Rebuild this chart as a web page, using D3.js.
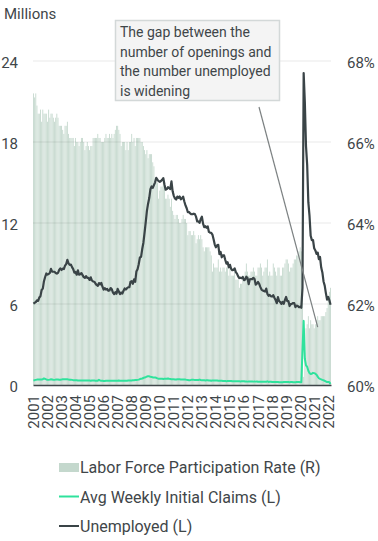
<!DOCTYPE html>
<html>
<head>
<meta charset="utf-8">
<script src="https://cdn.jsdelivr.net/npm/d3@7"></script>
<style>
  body { margin: 0; background: #fff; }
  text { font-family: Roboto, "Liberation Sans", sans-serif; fill: #3f4649; }
</style>
</head>
<body>
<div id="chart"></div>
<script>
// monthly series, Jan 2001 - Mar 2022
var startYear = 2001;

// labor force participation rate, %
var lfpr = [
  67.2,67.1,67.2,66.9,66.7,66.7,66.8,66.5,66.8,66.7,66.7,66.7,
  66.5,66.8,66.6,66.7,66.7,66.6,66.5,66.6,66.7,66.6,66.4,66.4,
  66.4,66.3,66.2,66.4,66.4,66.5,66.2,66.1,66.1,66.1,66.1,65.9,
  66.1,66.0,66.0,65.9,66.0,66.1,66.1,66.0,65.8,65.9,66.0,65.9,
  65.8,65.9,65.9,66.1,66.1,66.1,66.1,66.2,66.1,66.1,66.0,66.0,
  66.0,66.1,66.2,66.1,66.1,66.2,66.1,66.2,66.1,66.2,66.3,66.4,
  66.4,66.3,66.2,65.9,66.0,66.0,66.0,65.8,66.0,65.8,66.0,66.0,
  66.2,66.0,66.1,65.9,66.1,66.1,66.1,66.1,66.0,66.0,65.9,65.8,
  65.7,65.8,65.6,65.7,65.7,65.7,65.5,65.4,65.1,65.0,65.0,64.6,
  64.8,64.9,64.9,65.1,64.9,64.6,64.6,64.7,64.6,64.4,64.6,64.3,
  64.2,64.1,64.2,64.2,64.1,64.0,64.0,64.1,64.2,64.1,64.1,64.0,
  63.7,63.8,63.8,63.7,63.7,63.8,63.7,63.5,63.6,63.7,63.6,63.7,
  63.6,63.4,63.3,63.4,63.4,63.4,63.4,63.3,63.2,62.8,63.0,62.9,
  62.9,62.9,63.1,62.8,62.9,62.8,62.9,62.9,62.8,62.9,62.9,62.7,
  62.9,62.7,62.7,62.7,62.8,62.6,62.6,62.6,62.4,62.5,62.5,62.7,
  62.7,62.8,63.0,62.8,62.7,62.7,62.8,62.8,62.9,62.8,62.7,62.7,
  62.9,62.9,63.0,62.9,62.7,62.8,62.9,62.9,63.1,62.7,62.8,62.7,
  62.7,63.0,62.9,62.8,62.7,62.9,62.9,62.7,62.7,62.9,62.9,63.0,
  63.1,63.1,63.0,62.8,62.9,62.9,63.0,63.1,63.1,63.2,63.2,63.3,
  63.4,63.3,62.7,60.2,60.8,61.4,61.5,61.7,61.4,61.6,61.5,61.5,
  61.4,61.5,61.6,61.7,61.6,61.6,61.7,61.7,61.7,61.7,61.8,61.9,
  62.2,62.3,62.4
];

// unemployed, millions
var unemployed = [
  6.02,6.09,6.14,6.27,6.23,6.48,6.58,7.04,7.14,7.69,8.00,8.26,
  8.18,8.22,8.30,8.60,8.40,8.39,8.39,8.30,8.25,8.31,8.52,8.64,
  8.52,8.62,8.59,8.84,8.96,9.27,9.01,8.90,8.92,8.73,8.58,8.32,
  8.37,8.17,8.49,8.17,8.21,8.29,8.14,7.99,7.93,8.06,7.93,7.93,
  7.78,7.98,7.74,7.67,7.65,7.52,7.41,7.35,7.55,7.45,7.57,7.28,
  7.06,7.18,7.07,7.12,6.98,7.00,7.18,7.09,6.85,6.73,6.87,6.76,
  7.12,6.93,6.73,6.85,6.77,6.98,7.15,7.07,7.17,7.24,7.24,7.65,
  7.69,7.50,7.82,7.64,8.40,8.58,8.94,9.44,9.49,10.07,10.54,11.29,
  12.06,12.90,13.43,13.85,14.50,14.71,14.60,14.81,15.01,15.35,15.22,15.10,
  15.05,15.11,15.20,15.33,14.85,14.47,14.51,14.65,14.58,14.52,15.08,14.35,
  14.01,13.82,13.74,13.96,13.86,13.96,13.76,13.82,13.95,13.59,13.30,13.09,
  12.80,12.81,12.71,12.65,12.66,12.69,12.66,12.47,12.12,12.12,12.01,12.30,
  12.47,11.95,11.69,11.76,11.65,11.75,11.34,11.28,11.27,11.14,10.79,10.40,
  10.20,10.35,10.38,9.70,9.86,9.46,9.61,9.60,9.26,8.99,9.09,8.72,
  8.90,8.61,8.50,8.53,8.64,8.36,8.25,8.05,7.92,7.95,7.91,8.00,
  7.76,7.81,8.02,7.93,7.47,7.83,7.84,7.84,7.94,7.85,7.44,7.51,
  7.63,7.49,7.25,7.07,7.00,6.96,6.92,7.14,6.75,6.61,6.67,6.58,
  6.55,6.66,6.46,6.30,6.06,6.51,6.22,6.14,6.01,6.16,6.02,6.31,
  6.52,6.21,6.21,5.85,5.99,6.02,6.07,6.06,5.77,5.88,5.85,5.76,
  5.80,5.72,7.19,23.11,20.98,17.70,16.31,13.54,12.54,11.05,10.73,10.74,
  10.13,9.97,9.71,9.81,9.32,9.48,8.70,8.34,7.67,7.36,6.81,6.32,
  6.52,6.27,5.95
];

// average weekly initial claims, millions
var claims = [
  0.32,0.36,0.38,0.40,0.41,0.40,0.41,0.40,0.43,0.49,0.45,0.41,
  0.39,0.38,0.40,0.42,0.41,0.39,0.38,0.40,0.41,0.40,0.39,0.39,
  0.40,0.42,0.42,0.43,0.42,0.42,0.40,0.39,0.39,0.38,0.36,0.36,
  0.35,0.35,0.34,0.34,0.34,0.34,0.33,0.34,0.34,0.34,0.33,0.33,
  0.33,0.31,0.33,0.33,0.33,0.32,0.31,0.32,0.38,0.34,0.32,0.32,
  0.30,0.30,0.31,0.31,0.32,0.31,0.31,0.32,0.31,0.31,0.32,0.32,
  0.31,0.33,0.32,0.32,0.31,0.32,0.31,0.32,0.32,0.33,0.34,0.34,
  0.33,0.36,0.36,0.37,0.37,0.38,0.40,0.44,0.46,0.48,0.52,0.56,
  0.58,0.63,0.65,0.64,0.61,0.60,0.56,0.56,0.55,0.53,0.49,0.47,
  0.46,0.47,0.46,0.45,0.46,0.46,0.46,0.48,0.46,0.45,0.43,0.42,
  0.42,0.41,0.40,0.43,0.42,0.42,0.41,0.41,0.41,0.40,0.40,0.38,
  0.37,0.36,0.36,0.38,0.38,0.38,0.37,0.37,0.37,0.37,0.40,0.37,
  0.35,0.35,0.35,0.34,0.35,0.35,0.34,0.33,0.31,0.34,0.33,0.34,
  0.33,0.33,0.32,0.31,0.31,0.31,0.30,0.30,0.29,0.28,0.29,0.29,
  0.29,0.30,0.28,0.28,0.27,0.28,0.27,0.27,0.27,0.26,0.27,0.27,
  0.28,0.26,0.26,0.25,0.26,0.26,0.26,0.26,0.25,0.26,0.25,0.26,
  0.24,0.24,0.25,0.24,0.24,0.24,0.24,0.24,0.27,0.23,0.24,0.24,
  0.23,0.22,0.22,0.22,0.22,0.22,0.21,0.21,0.21,0.21,0.22,0.22,
  0.22,0.23,0.22,0.21,0.22,0.22,0.21,0.21,0.21,0.22,0.22,0.22,
  0.21,0.21,2.60,4.75,1.95,1.45,1.35,1.05,0.88,0.82,0.84,0.90,
  0.88,0.84,0.76,0.62,0.50,0.45,0.42,0.38,0.35,0.31,0.26,0.22,
  0.23,0.20,0.08
];

var leftTicks = [0, 6, 12, 18, 24];
var rightTicks = [60, 62, 64, 66, 68];
var legendLabels = ["Labor Force Participation Rate (R)", "Avg Weekly Initial Claims (L)", "Unemployed (L)"];
var noteLines = ["The gap between the", "number of openings and", "the number unemployed", "is widening"];
// where the note's pointer ends: month index and rate on right axis
var noteTarget = { month: 243, rate: 61.43 };

var barColor = "#c4d8cd",
    claimsColor = "#2fe29c",
    unempColor = "#3a4447";

var margin = { top: 61, right: 47, bottom: 156, left: 33 };
var width = 378 - margin.left - margin.right;
var height = 541 - margin.top - margin.bottom;

var svg = d3.select("#chart").append("svg")
  .attr("width", 378)
  .attr("height", 541);

var g = svg.append("g")
  .attr("transform", "translate(" + margin.left + "," + margin.top + ")");

var months = d3.range(lfpr.length);

var x = d3.scaleBand()
  .domain(months)
  .range([0, width])
  .paddingInner(0.25);

var yL = d3.scaleLinear().domain([0, 24]).range([height, 0]);
var yR = d3.scaleLinear().domain([60, 68]).range([height, 0]);

var cx = function(i) { return x(i) + x.bandwidth() / 2; };

// bars
g.selectAll("rect.bar")
  .data(months)
  .enter().append("rect")
  .attr("class", "bar")
  .attr("x", function(i) { return x(i); })
  .attr("width", x.bandwidth())
  .attr("y", function(i) { return yR(lfpr[i]); })
  .attr("height", function(i) { return height - yR(lfpr[i]); })
  .attr("fill", barColor);

// gridlines
g.selectAll("line.grid")
  .data(leftTicks.filter(function(d) { return d > 0; }))
  .enter().append("line")
  .attr("class", "grid")
  .attr("x1", 0).attr("x2", width)
  .attr("y1", function(d) { return yL(d); })
  .attr("y2", function(d) { return yL(d); })
  .attr("stroke", "#000")
  .attr("stroke-opacity", 0.09)
  .attr("stroke-width", 1.2);

// left axis
var leftAxis = g.append("g")
  .call(d3.axisLeft(yL).tickValues(leftTicks).tickSize(0).tickPadding(15));
leftAxis.select(".domain").remove();
leftAxis.selectAll("text").style("font-size", "15px").attr("dy", "0.42em");

// right axis
var rightAxis = g.append("g")
  .attr("transform", "translate(" + width + ",0)")
  .call(d3.axisRight(yR).tickValues(rightTicks).tickSize(0).tickPadding(16)
    .tickFormat(function(d) { return d + "%"; }));
rightAxis.select(".domain").remove();
rightAxis.selectAll("text").style("font-size", "15px").attr("dy", "0.42em");

// lines
var seriesLine = d3.line()
  .x(function(d, i) { return cx(i); })
  .y(function(d) { return yL(d); });

g.append("path")
  .datum(claims)
  .attr("d", seriesLine)
  .attr("fill", "none")
  .attr("stroke", claimsColor)
  .attr("stroke-width", 2)
  .attr("stroke-linejoin", "round");

g.append("path")
  .datum(unemployed)
  .attr("d", seriesLine)
  .attr("fill", "none")
  .attr("stroke", unempColor)
  .attr("stroke-width", 2.2)
  .attr("stroke-linejoin", "round");

// x axis
var xAxis = g.append("g")
  .attr("transform", "translate(0," + height + ")")
  .call(d3.axisBottom(x)
    .tickValues(months.filter(function(i) { return i % 12 === 0; }))
    .tickFormat(function(i) { return startYear + i / 12; })
    .tickSize(0));
xAxis.select(".domain")
  .attr("stroke", "#3f4649")
  .attr("stroke-width", 1.5);
xAxis.selectAll("text")
  .style("font-size", "15px")
  .attr("transform", "rotate(-90)")
  .attr("text-anchor", "end")
  .attr("x", -10)
  .attr("y", 0)
  .attr("dy", "0.36em");

// unit label
svg.append("text")
  .attr("x", 4)
  .attr("y", 19)
  .style("font-size", "15px")
  .text("Millions");

// annotation
var note = svg.append("g");
note.append("line")
  .attr("x1", 259).attr("y1", 107)
  .attr("x2", margin.left + cx(noteTarget.month))
  .attr("y2", margin.top + yR(noteTarget.rate))
  .attr("stroke", "#7b8081")
  .attr("stroke-width", 1.2);
note.append("rect")
  .attr("x", 115.5).attr("y", 20.5)
  .attr("width", 164).attr("height", 80)
  .attr("fill", "#f4f4f4")
  .attr("stroke", "#d3d8d8")
  .attr("stroke-width", 1.5);
note.selectAll("text")
  .data(noteLines)
  .enter().append("text")
  .attr("x", 120)
  .attr("y", function(d, i) { return 37 + i * 19.7; })
  .style("font-size", "14px")
  .attr("fill", "#2f3639")
  .text(function(d) { return d; });

// legend
var legend = svg.append("g").attr("transform", "translate(59,473)");
var item = legend.selectAll("g")
  .data(legendLabels)
  .enter().append("g")
  .attr("transform", function(d, i) { return "translate(0," + (i * 29.5) + ")"; });

item.filter(function(d, i) { return i === 0; })
  .append("rect")
  .attr("x", 0).attr("y", -10)
  .attr("width", 20).attr("height", 9)
  .attr("fill", barColor);

item.filter(function(d, i) { return i > 0; })
  .append("line")
  .attr("x1", 0).attr("x2", 20)
  .attr("y1", -6).attr("y2", -6)
  .attr("stroke", function(d, i) { return i === 0 ? claimsColor : unempColor; })
  .attr("stroke-width", 2);

item.append("text")
  .attr("x", 21)
  .attr("y", 0)
  .style("font-size", "16px")
  .text(function(d) { return d; });
</script>
</body>
</html>
